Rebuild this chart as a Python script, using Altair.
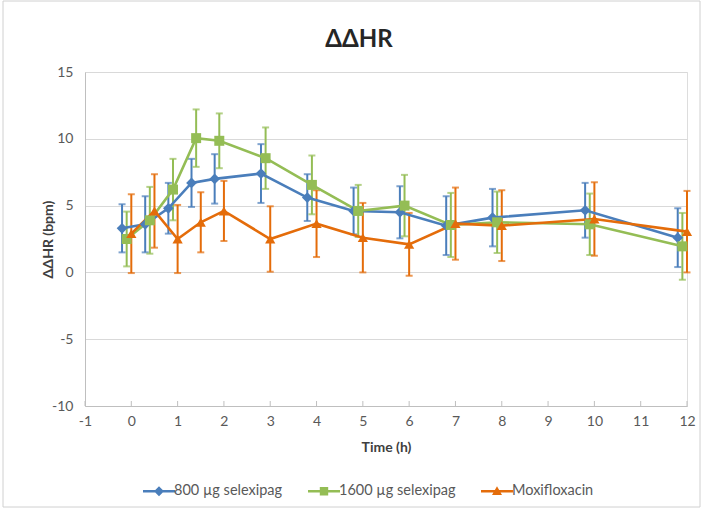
import altair as alt
import pandas as pd

# Sampling times (h) and the three treatment series
times = [0, 0.5, 1, 1.5, 2, 3, 4, 5, 6, 7, 8, 10, 12]
series_names = ["800 µg selexipag", "1600 µg selexipag", "Moxifloxacin"]
# small horizontal dodge so the error bars do not sit on top of each other
time_offsets = [-0.2, -0.1, 0.0]

mean_800 = [3.3, 3.6, 4.8, 6.7, 7.0, 7.4, 5.6, 4.6, 4.5, 3.5, 4.1, 4.65, 2.6]
err_800 = [1.8, 2.1, 1.9, 1.8, 1.85, 2.2, 1.75, 1.75, 1.95, 2.2, 2.15, 2.05, 2.2]

mean_1600 = [2.5, 3.9, 6.2, 10.05, 9.85, 8.55, 6.55, 4.6, 5.0, 3.55, 3.75, 3.6, 1.95]
err_1600 = [2.05, 2.5, 2.3, 2.15, 2.05, 2.3, 2.2, 1.95, 2.3, 2.4, 2.3, 2.3, 2.5]

mean_moxi = [2.9, 4.6, 2.5, 3.75, 4.6, 2.5, 3.65, 2.6, 2.1, 3.65, 3.5, 4.0, 3.05]
err_moxi = [2.95, 2.75, 2.55, 2.25, 2.25, 2.45, 2.5, 2.6, 2.35, 2.7, 2.65, 2.75, 3.05]

colors = ["#4A7EBB", "#94BD55", "#E46C0A"]
marker_shapes = ["diamond", "square", "triangle-up"]
marker_sizes = [115, 100, 105]
# legend glyphs: a short line segment with the series marker on it
legend_glyphs = [
    "M-1.6,-0.125L1.6,-0.125L1.6,0.125L-1.6,0.125ZM0,-0.5L0.5,0L0,0.5L-0.5,0Z",
    "M-1.6,-0.125L1.6,-0.125L1.6,0.125L-1.6,0.125ZM-0.42,-0.42L0.42,-0.42L0.42,0.42L-0.42,0.42Z",
    "M-1.6,-0.125L1.6,-0.125L1.6,0.125L-1.6,0.125ZM0,-0.5L0.5,0.38L-0.5,0.38Z",
]

x_ticks = list(range(-1, 13))
y_ticks = [-10, -5, 0, 5, 10, 15]

rows = []
for name, off, means, errs in zip(
    series_names, time_offsets, [mean_800, mean_1600, mean_moxi], [err_800, err_1600, err_moxi]
):
    for t, m, e in zip(times, means, errs):
        rows.append({"series": name, "time": t + off, "mean": m, "lo": m - e, "hi": m + e})
df = pd.DataFrame(rows)

W, H = 602, 334
FONT = "Lato"
PLAIN_LABEL = "'' + datum.value"  # plain hyphen for negative numbers

x_enc = alt.X(
    "time:Q",
    scale=alt.Scale(domain=[-1, 12], nice=False, zero=False),
    axis=alt.Axis(
        values=x_ticks, ticks=False, grid=False, domainColor="#BFBFBF",
        labelFont=FONT, labelFontSize=14, labelColor="#595959", labelPadding=8,
        labelExpr=PLAIN_LABEL, labelFlush=False,
        title="Time (h)", titleFont=FONT, titleFontSize=14, titleFontWeight="bold",
        titleColor="#404040", titlePadding=12,
    ),
)
y_scale = alt.Scale(domain=[-10, 15], nice=False, zero=False)
y_axis = alt.Axis(
    values=y_ticks, ticks=False, grid=True, gridColor="#D9D9D9", domainColor="#BFBFBF",
    labelFont=FONT, labelFontSize=14, labelColor="#595959", labelPadding=12,
    labelExpr=PLAIN_LABEL,
    title="ΔΔHR (bpm)", titleFont=FONT, titleFontSize=14, titleFontWeight="bold",
    titleColor="#404040", titlePadding=-4,
)
# line/marker colours: series order given through sort, no legend of its own
color_enc = alt.Color("series:N", sort=series_names, scale=alt.Scale(range=colors), legend=None)

base = alt.Chart(df)

# outer chart frame
frame = alt.Chart(pd.DataFrame({"k": [0]})).mark_rect(
    fill=None, stroke="#D0D0D0", strokeWidth=1
).encode(
    x=alt.value(-82), x2=alt.value(615), y=alt.value(-71), y2=alt.value(435)
)

# small inward ticks along the time axis
axis_ticks = alt.Chart(pd.DataFrame({"tick": x_ticks})).mark_rule(
    color="#BFBFBF", strokeWidth=1
).encode(
    x=alt.X("tick:Q", scale=alt.Scale(domain=[-1, 12], nice=False, zero=False)),
    y=alt.value(H), y2=alt.value(H - 5),
)

err_rules = base.mark_rule(strokeWidth=2).encode(
    x=x_enc, y=alt.Y("lo:Q", scale=y_scale, axis=y_axis), y2="hi:Q", color=color_enc
)
cap_lo = base.mark_tick(orient="horizontal", size=7, thickness=2).encode(
    x="time:Q", y="lo:Q", color=color_enc
)
cap_hi = base.mark_tick(orient="horizontal", size=7, thickness=2).encode(
    x="time:Q", y="hi:Q", color=color_enc
)
lines = base.mark_line(strokeWidth=2.6).encode(
    x="time:Q", y="mean:Q", color=color_enc, detail="series:N"
)

markers = []
for name, shp, sz in zip(series_names, marker_shapes, marker_sizes):
    markers.append(
        base.transform_filter(alt.datum.series == name)
        .mark_point(filled=True, shape=shp, size=sz, opacity=1)
        .encode(x="time:Q", y="mean:Q", color=color_enc)
    )

legend_opts = dict(
    title=None, orient="none", direction="horizontal",
    legendX=64, legendY=409, symbolSize=400, symbolOpacity=1,
    symbolStrokeWidth=0, labelFont=FONT, labelFontSize=14.5,
    labelColor="#595959", labelOffset=5, columnPadding=25, padding=0,
)

# invisible layer that carries the legend (fill + shape share one legend)
legend_layer = base.mark_point(filled=True, opacity=0).encode(
    x="time:Q",
    y="mean:Q",
    fill=alt.Fill(
        "series:N",
        scale=alt.Scale(domain=series_names, range=colors),
        legend=alt.Legend(**legend_opts),
    ),
    shape=alt.Shape(
        "series:N",
        scale=alt.Scale(domain=series_names, range=legend_glyphs),
        legend=alt.Legend(**legend_opts),
    ),
)

chart = alt.layer(
    frame, axis_ticks, err_rules, cap_lo, cap_hi, lines, *markers, legend_layer
).properties(
    width=W,
    height=H,
    title=alt.TitleParams(
        "ΔΔHR", font=FONT, fontSize=24, fontWeight="bold", color="#262626",
        anchor="middle", frame="group", dx=-27, offset=-51,
    ),
    autosize=alt.AutoSizeParams(type="none"),
    padding={"left": 85, "top": 72, "right": 704 - 85 - W, "bottom": 512 - 72 - H},
).configure_view(stroke=None).configure(background="white")

chart.save("out.html", embed_options={"renderer": "svg", "actions": False})
